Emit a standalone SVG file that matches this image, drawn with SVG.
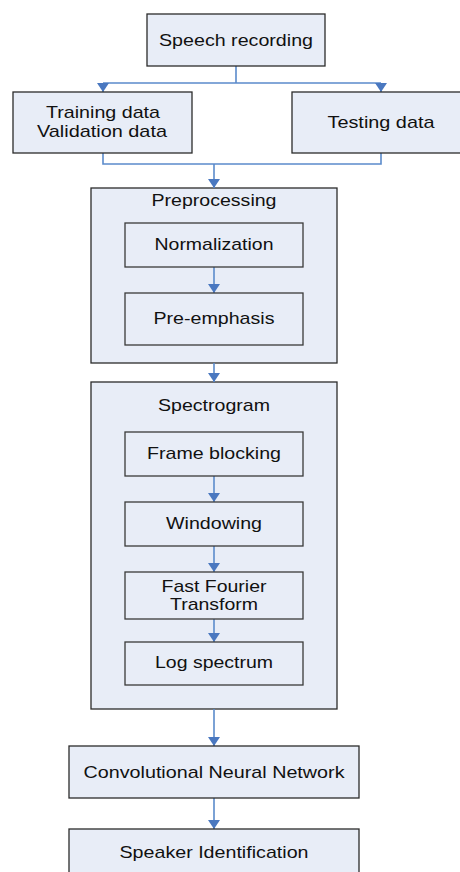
<svg xmlns="http://www.w3.org/2000/svg" width="460" height="872" viewBox="0 0 460 872">
  <style>
    .box { fill: #E8EDF7; stroke: #2B2B2B; stroke-width: 1.3; }
    .inner { fill: #E8EDF7; stroke: #3A3A3A; stroke-width: 1.3; }
    .lbl { font-family: "Liberation Sans", Arial, sans-serif; font-size: 17px; fill: #111; text-anchor: middle; }
    .wire { fill: none; stroke: #5B8BCB; stroke-width: 1.6; }
  </style>
  <defs>
    <marker id="tip" markerUnits="userSpaceOnUse" markerWidth="9" markerHeight="12" refX="9" refY="6" orient="auto" viewBox="0 0 9 12">
      <path d="M0,0 L9,6 L0,12 z" fill="#4A78C0"/>
    </marker>
  </defs>

  <rect width="460" height="872" fill="#FFFFFF"/>

  <!-- containers first, so inner steps sit on top -->
  <g id="preprocessing">
    <rect class="box" x="91" y="188" width="246" height="175"/>
    <text class="lbl" x="214" y="206" textLength="125" lengthAdjust="spacingAndGlyphs">Preprocessing</text>
  </g>
  <g id="spectrogram">
    <rect class="box" x="91" y="382" width="246" height="327"/>
    <text class="lbl" x="214" y="411" textLength="112" lengthAdjust="spacingAndGlyphs">Spectrogram</text>
  </g>

  <g id="connectors">
    <path class="wire" d="M236,66 V83 M103,83 H381"/>
    <path class="wire" d="M103,83 V92" marker-end="url(#tip)"/>
    <path class="wire" d="M381,83 V92" marker-end="url(#tip)"/>
    <path class="wire" d="M103,153 V164 H381 V153"/>
    <path class="wire" d="M214,164 V188" marker-end="url(#tip)"/>
    <path class="wire" d="M214,267 V293" marker-end="url(#tip)"/>
    <path class="wire" d="M214,363 V382" marker-end="url(#tip)"/>
    <path class="wire" d="M214,476 V502" marker-end="url(#tip)"/>
    <path class="wire" d="M214,546 V572" marker-end="url(#tip)"/>
    <path class="wire" d="M214,619 V642" marker-end="url(#tip)"/>
    <path class="wire" d="M214,709 V746" marker-end="url(#tip)"/>
    <path class="wire" d="M214,798 V829" marker-end="url(#tip)"/>
  </g>

  <g id="speech-recording">
    <rect class="box" x="147" y="14" width="178" height="52"/>
    <text class="lbl" x="236" y="46" textLength="154" lengthAdjust="spacingAndGlyphs">Speech recording</text>
  </g>
  <g id="training-data">
    <rect class="box" x="13" y="92" width="179" height="61"/>
    <text class="lbl" x="103" y="118" textLength="114" lengthAdjust="spacingAndGlyphs">Training data</text>
    <text class="lbl" x="102" y="137" textLength="130" lengthAdjust="spacingAndGlyphs">Validation data</text>
  </g>
  <g id="testing-data">
    <rect class="box" x="292" y="92" width="172" height="61"/>
    <text class="lbl" x="381" y="128" textLength="107" lengthAdjust="spacingAndGlyphs">Testing data</text>
  </g>

  <g id="normalization">
    <rect class="inner" x="125" y="223" width="178" height="44"/>
    <text class="lbl" x="214" y="250" textLength="119" lengthAdjust="spacingAndGlyphs">Normalization</text>
  </g>
  <g id="pre-emphasis">
    <rect class="inner" x="125" y="293" width="178" height="52"/>
    <text class="lbl" x="214" y="324" textLength="121" lengthAdjust="spacingAndGlyphs">Pre-emphasis</text>
  </g>

  <g id="frame-blocking">
    <rect class="inner" x="125" y="432" width="178" height="44"/>
    <text class="lbl" x="214" y="459" textLength="134" lengthAdjust="spacingAndGlyphs">Frame blocking</text>
  </g>
  <g id="windowing">
    <rect class="inner" x="125" y="502" width="178" height="44"/>
    <text class="lbl" x="214" y="529" textLength="96" lengthAdjust="spacingAndGlyphs">Windowing</text>
  </g>
  <g id="fft">
    <rect class="inner" x="125" y="572" width="178" height="47"/>
    <text class="lbl" x="214" y="592" textLength="105" lengthAdjust="spacingAndGlyphs">Fast Fourier</text>
    <text class="lbl" x="214" y="610" textLength="88" lengthAdjust="spacingAndGlyphs">Transform</text>
  </g>
  <g id="log-spectrum">
    <rect class="inner" x="125" y="642" width="178" height="43"/>
    <text class="lbl" x="214" y="668" textLength="118" lengthAdjust="spacingAndGlyphs">Log spectrum</text>
  </g>

  <g id="cnn">
    <rect class="box" x="69" y="746" width="290" height="52"/>
    <text class="lbl" x="214" y="778" textLength="261" lengthAdjust="spacingAndGlyphs">Convolutional Neural Network</text>
  </g>
  <g id="speaker-identification">
    <rect class="box" x="69" y="829" width="290" height="52"/>
    <text class="lbl" x="214" y="858" textLength="189" lengthAdjust="spacingAndGlyphs">Speaker Identification</text>
  </g>
</svg>
